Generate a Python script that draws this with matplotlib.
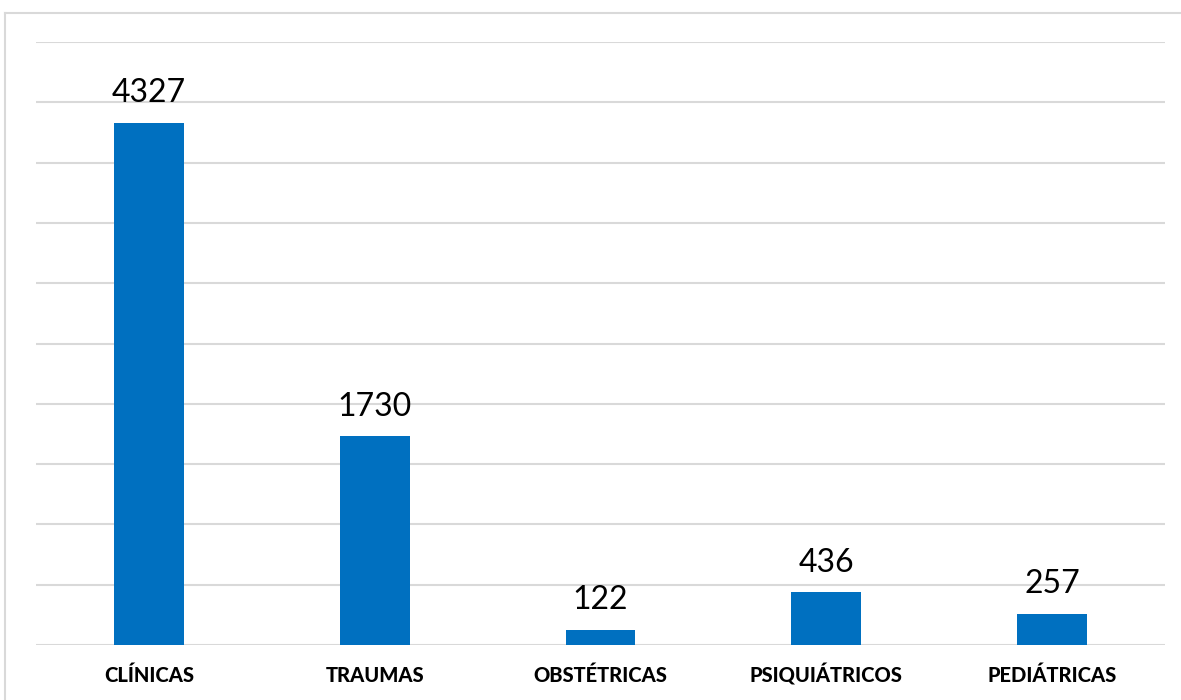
import matplotlib.pyplot as plt
from matplotlib.lines import Line2D

categories = ['CLÍNICAS', 'TRAUMAS', 'OBSTÉTRICAS', 'PSIQUIÁTRICOS', 'PEDIÁTRICAS']
values = [4327, 1730, 122, 436, 257]

plt.rcParams['font.family'] = ['Lato', 'DejaVu Sans']

fig = plt.figure(figsize=(11.81, 7.0), dpi=100)
ax = fig.add_axes([36 / 1181, 55 / 700, 1129 / 1181, 603 / 700])

x = range(len(categories))
bars = ax.bar(x, values, width=0.31, color='#0070C0', zorder=3)

for rect, v in zip(bars, values):
    ax.annotate(str(v), (rect.get_x() + rect.get_width() / 2, v),
                xytext=(0, 15), textcoords='offset points',
                ha='center', va='baseline', fontsize=23, color='black')

ax.set_xlim(-0.5, len(categories) - 0.5)
ax.set_ylim(0, 5000)
ax.set_yticks(range(0, 5001, 500))
ax.set_yticklabels([])
ax.yaxis.grid(True, color='#D9D9D9', linewidth=1.5, zorder=0)
ax.set_xticks(list(x))
ax.set_xticklabels(categories, fontsize=14.5, fontweight='black', va='baseline')
ax.tick_params(axis='both', length=0)
ax.tick_params(axis='x', pad=27)
for s in ax.spines.values():
    s.set_visible(False)

# outer chart frame (left and top edges visible)
fig.add_artist(Line2D([5 / 1181, 5 / 1181], [0, 1 - 13 / 700], transform=fig.transFigure,
                      color='#D9D9D9', linewidth=1.5))
fig.add_artist(Line2D([5 / 1181, 1], [1 - 13 / 700, 1 - 13 / 700], transform=fig.transFigure,
                      color='#D9D9D9', linewidth=1.5))

fig.savefig('out.png', dpi=100)
